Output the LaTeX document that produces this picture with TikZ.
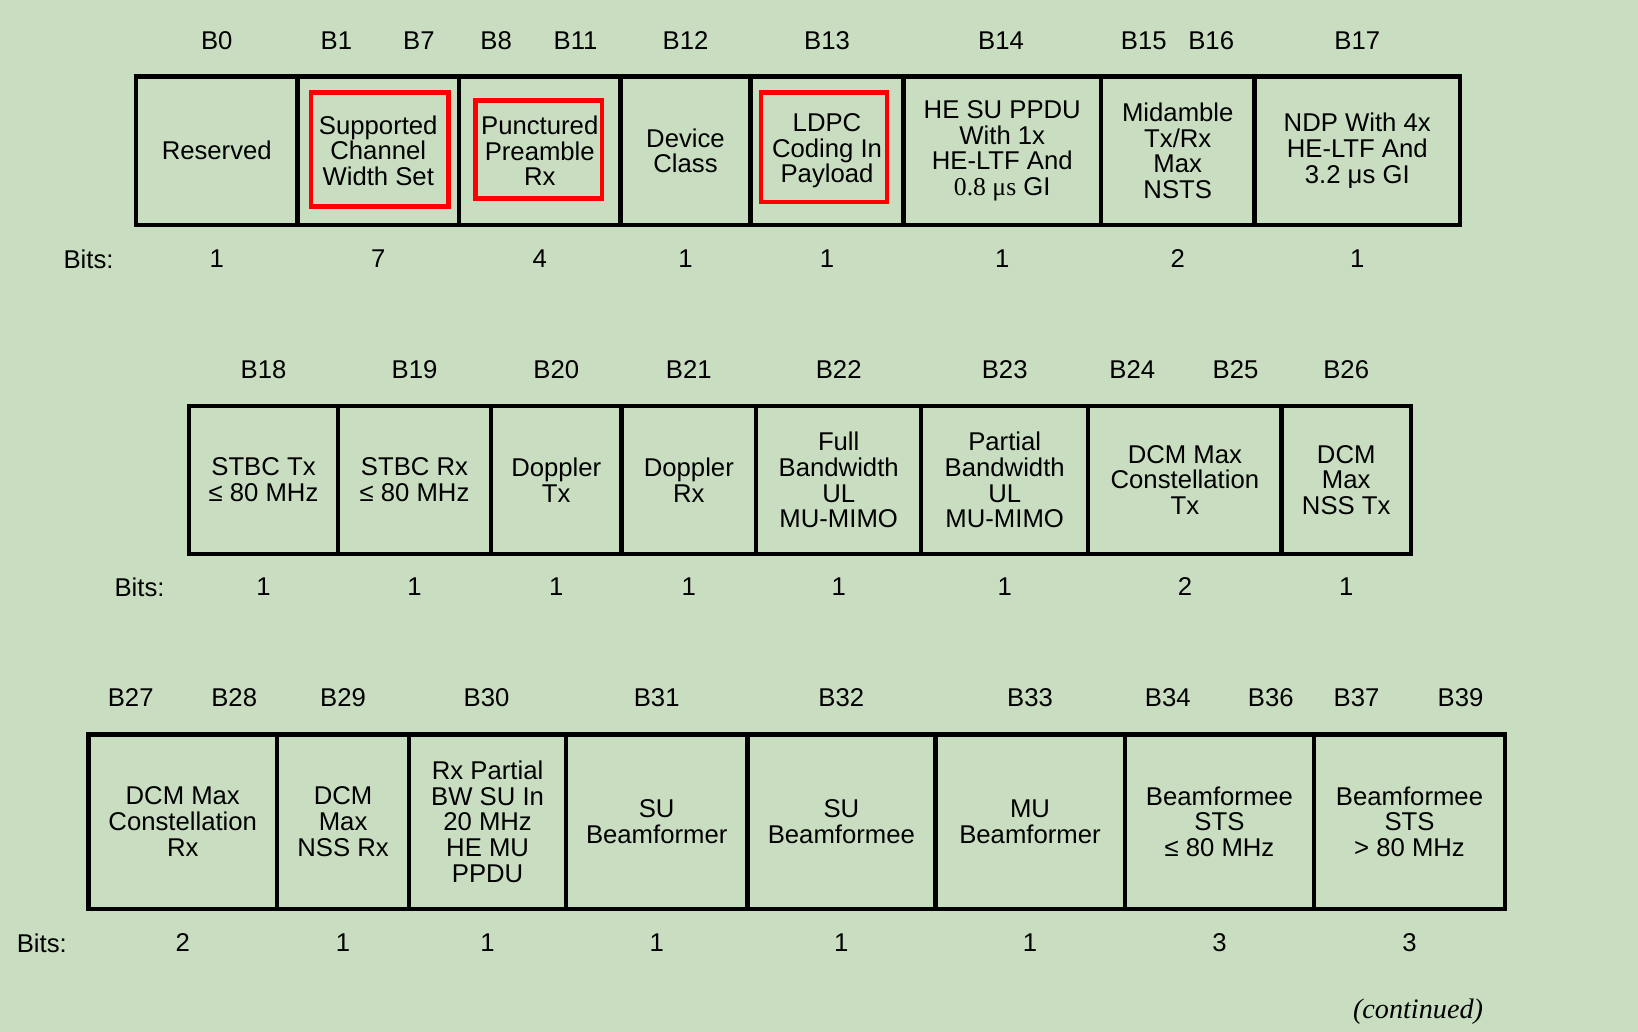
\documentclass[tikz,border=0pt]{standalone}
\usepackage{fontspec}
\setmainfont{Liberation Sans}
\newfontfamily\serifface{Liberation Serif}
\usetikzlibrary{fit}
\definecolor{bg}{RGB}{201,222,192}
\definecolor{hl}{RGB}{255,0,0}
\begin{document}
\begin{tikzpicture}[x=0.5pt,y=-0.5pt,
  cell/.style={draw=black, line width=2.2pt, inner sep=0pt, align=center, anchor=center,
    font=\fontsize{12.85}{12.9}\selectfont},
  rowA/.style={cell, minimum height=74.25pt},
  rowB/.style={cell, minimum height=74pt},
  rowC/.style={cell, minimum height=87.35pt},
  hlbox/.style={draw=hl, line width=2.25pt, inner sep=0pt},
  lbl/.style={inner sep=0pt, font=\fontsize{12.85}{12.9}\selectfont},
  contd/.style={inner sep=0pt, anchor=base, font=\serifface\itshape\fontsize{14.1}{16}\selectfont}]
\fill[bg] (0,0) rectangle (1638,1032);
\useasboundingbox (0,0) rectangle (1638,1032);

% ---------- row 1 ----------
\coordinate (bl1) at (0,40.5);
\coordinate (bt1) at (0,259);
\node[rowA, minimum width=80.75pt] (a0) at (216.75,150.75) {Reserved};
\node[rowA, minimum width=80.75pt] (a1) at (378.25,150.75) {Supported\\Channel\\Width Set};
\node[rowA, minimum width=80.75pt] (a2) at (539.75,150.75) {Punctured\\Preamble\\Rx};
\node[rowA, minimum width=65pt] (a3) at (685.5,150.75) {Device\\Class};
\node[rowA, minimum width=76.5pt] (a4) at (827,150.75) {LDPC\\Coding In\\Payload};
\node[rowA, minimum width=98.75pt] (a5) at (1002.25,150.75) {HE SU PPDU\\With 1x\\HE-LTF And\\{\serifface 0.8 μs} GI};
\node[rowA, minimum width=76.75pt] (a6) at (1177.75,150.75) {Midamble\\Tx/Rx\\Max\\NSTS};
\node[rowA, minimum width=102.75pt] (a7) at (1357.25,150.75) {NDP With 4x\\HE-LTF And\\3.2 μs GI};

\node[hlbox, fit={(311.2,92.7) (448.7,206.7)}] (h1) {};
\node[hlbox, fit={(475.4,100.3) (602,198.7)}] (h2) {};
\node[hlbox, fit={(761,92.7) (887.1,202)}] (h3) {};

\node[lbl] (a0t) at (a0 |- bl1) {B0};
\node[lbl] (a1l) at (336.4,40.5) {B1};
\node[lbl] (a1r) at (418.9,40.5) {B7};
\node[lbl] (a2l) at (496.2,40.5) {B8};
\node[lbl] (a2r) at (575.6,40.5) {B11};
\node[lbl] (a3t) at (a3 |- bl1) {B12};
\node[lbl] (a4t) at (a4 |- bl1) {B13};
\node[lbl] (a5t) at (1001,40.5) {B14};
\node[lbl] (a6l) at (1143.8,40.5) {B15};
\node[lbl] (a6r) at (1211.2,40.5) {B16};
\node[lbl] (a7t) at (a7 |- bl1) {B17};

\node[lbl] (bits1) at (88.5,259) {Bits:};
\node[lbl] (a0b) at (a0 |- bt1) {1};
\node[lbl] (a1b) at (a1 |- bt1) {7};
\node[lbl] (a2b) at (a2 |- bt1) {4};
\node[lbl] (a3b) at (a3 |- bt1) {1};
\node[lbl] (a4b) at (a4 |- bt1) {1};
\node[lbl] (a5b) at (a5 |- bt1) {1};
\node[lbl] (a6b) at (a6 |- bt1) {2};
\node[lbl] (a7b) at (a7 |- bt1) {1};

% ---------- row 2 ----------
\coordinate (bl2) at (0,369.5);
\coordinate (bt2) at (0,587);
\node[rowB, minimum width=74.5pt] (b0) at (263.5,480) {STBC Tx\\≤ 80 MHz};
\node[rowB, minimum width=76.5pt] (b1) at (414.5,480) {STBC Rx\\≤ 80 MHz};
\node[rowB, minimum width=65.25pt] (b2) at (556.25,480) {Doppler\\Tx};
\node[rowB, minimum width=67.35pt] (b3) at (688.85,480) {Doppler\\Rx};
\node[rowB, minimum width=82.5pt] (b4) at (838.7,480) {Full\\Bandwidth\\UL\\MU-MIMO};
\node[rowB, minimum width=83.5pt] (b5) at (1004.7,480) {Partial\\Bandwidth\\UL\\MU-MIMO};
\node[rowB, minimum width=96.7pt] (b6) at (1184.9,480) {DCM Max\\Constellation\\Tx};
\node[rowB, minimum width=64.6pt] (b7) at (1346.2,480) {DCM\\Max\\NSS Tx};

\node[lbl] (b0t) at (b0 |- bl2) {B18};
\node[lbl] (b1t) at (b1 |- bl2) {B19};
\node[lbl] (b2t) at (b2 |- bl2) {B20};
\node[lbl] (b3t) at (b3 |- bl2) {B21};
\node[lbl] (b4t) at (b4 |- bl2) {B22};
\node[lbl] (b5t) at (b5 |- bl2) {B23};
\node[lbl] (b6l) at (1132.3,369.5) {B24};
\node[lbl] (b6r) at (1235.5,369.5) {B25};
\node[lbl] (b7t) at (b7 |- bl2) {B26};

\node[lbl] (bits2) at (139.5,587) {Bits:};
\node[lbl] (b0b) at (b0 |- bt2) {1};
\node[lbl] (b1b) at (b1 |- bt2) {1};
\node[lbl] (b2b) at (b2 |- bt2) {1};
\node[lbl] (b3b) at (b3 |- bt2) {1};
\node[lbl] (b4b) at (b4 |- bt2) {1};
\node[lbl] (b5b) at (b5 |- bt2) {1};
\node[lbl] (b6b) at (b6 |- bt2) {2};
\node[lbl] (b7b) at (b7 |- bt2) {1};

% ---------- row 3 ----------
\coordinate (bl3) at (0,698);
\coordinate (bt3) at (0,943);
\node[rowC, minimum width=94.25pt] (c0) at (182.75,821.65) {DCM Max\\Constellation\\Rx};
\node[rowC, minimum width=66.1pt] (c1) at (343.1,821.65) {DCM\\Max\\NSS Rx};
\node[rowC, minimum width=78.4pt] (c2) at (487.6,821.65) {Rx Partial\\BW SU In\\20 MHz\\HE MU\\PPDU};
\node[rowC, minimum width=90.7pt] (c3) at (656.7,821.65) {SU\\Beamformer};
\node[rowC, minimum width=93.95pt] (c4) at (841.35,821.65) {SU\\Beamformee};
\node[rowC, minimum width=94.7pt] (c5) at (1030,821.65) {MU\\Beamformer};
\node[rowC, minimum width=94.75pt] (c6) at (1219.45,821.65) {Beamformee\\STS\\≤ 80 MHz};
\node[rowC, minimum width=95.3pt] (c7) at (1409.5,821.65) {Beamformee\\STS\\> 80 MHz};

\node[lbl] (c0l) at (130.7,698) {B27};
\node[lbl] (c0r) at (234.2,698) {B28};
\node[lbl] (c1t) at (c1 |- bl3) {B29};
\node[lbl] (c2t) at (486.6,698) {B30};
\node[lbl] (c3t) at (c3 |- bl3) {B31};
\node[lbl] (c4t) at (c4 |- bl3) {B32};
\node[lbl] (c5t) at (c5 |- bl3) {B33};
\node[lbl] (c6l) at (1167.8,698) {B34};
\node[lbl] (c6r) at (1270.8,698) {B36};
\node[lbl] (c7l) at (1356.5,698) {B37};
\node[lbl] (c7r) at (1460.5,698) {B39};

\node[lbl] (bits3) at (41.8,943) {Bits:};
\node[lbl] (c0b) at (c0 |- bt3) {2};
\node[lbl] (c1b) at (c1 |- bt3) {1};
\node[lbl] (c2b) at (c2 |- bt3) {1};
\node[lbl] (c3b) at (c3 |- bt3) {1};
\node[lbl] (c4b) at (c4 |- bt3) {1};
\node[lbl] (c5b) at (c5 |- bt3) {1};
\node[lbl] (c6b) at (c6 |- bt3) {3};
\node[lbl] (c7b) at (c7 |- bt3) {3};

\node[contd] (cont) at (1418,1018) {(continued)};
\end{tikzpicture}
\end{document}
